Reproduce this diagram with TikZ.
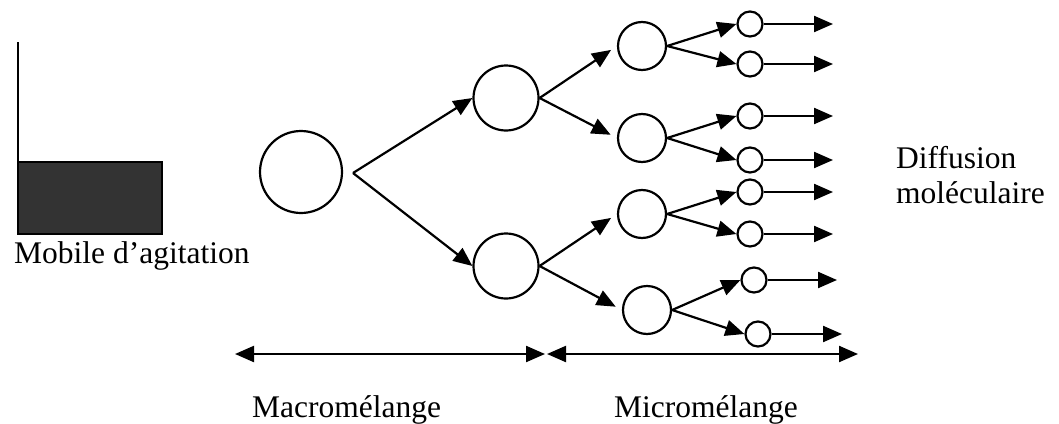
\documentclass[tikz,border=0pt]{standalone}
\usepackage{fontspec}
\setmainfont{Liberation Serif}
\usetikzlibrary{arrows.meta}
\begin{document}
\begin{tikzpicture}[x=1pt,y=-1pt,
  flow/.style={draw,line width=2.2pt,-{Triangle[length=19pt,width=16pt]}},
  span/.style={draw,line width=2.2pt,{Triangle[length=19pt,width=16pt]}-{Triangle[length=19pt,width=16pt]}},
  drop/.style={circle,draw,line width=2.2pt,inner sep=0pt},
  big/.style={drop,minimum size=82pt},
  mid/.style={drop,minimum size=65pt},
  small/.style={drop,minimum size=48pt},
  tiny/.style={drop,minimum size=25pt},
  lbl/.style={font=\fontsize{31.5}{35}\selectfont,inner sep=0pt,anchor=base west}]
\useasboundingbox (0,0) rectangle (1059,423);

% stirrer
\draw[line width=1.8pt] (18,42) -- (18,162);
\draw[line width=1.6pt,fill=black!80] (18,162) rectangle (162,234);
\node[lbl] (mobile) at (14,263) {Mobile d’agitation};

% first break-up
\node[big] (a) at (301,172) {};
\coordinate (split) at (353,173);
\node[mid] (b1) at (506,98) {};
\node[mid] (b2) at (506,266) {};
\path[flow] (split) -- (b1.west);
\path[flow] (split) -- (b2.west);

% second break-up
\node[small] (c1) at (642,46) {};
\node[small] (c2) at (642,138) {};
\node[small] (c3) at (642,214) {};
\node[small] (c4) at (647,310) {};
\path[flow,shorten >=7pt] (b1.east) -- (c1.west);
\path[flow,shorten >=7pt] (b1.east) -- (c2.west);
\path[flow,shorten >=7pt] (b2.east) -- (c3.west);
\path[flow,shorten >=7pt] (b2.east) -- (c4.west);

% smallest drops
\node[tiny] (d1) at (750,24) {};
\node[tiny] (d2) at (750,64) {};
\node[tiny] (d3) at (750,116) {};
\node[tiny] (d4) at (750,160) {};
\node[tiny] (d5) at (750,192) {};
\node[tiny] (d6) at (750,234) {};
\node[tiny] (d7) at (754,280) {};
\node[tiny] (d8) at (758,334) {};
\path[flow] (c1.east) -- (d1.west);
\path[flow] (c1.east) -- (d2.west);
\path[flow] (c2.east) -- (d3.west);
\path[flow] (c2.east) -- (d4.west);
\path[flow] (c3.east) -- (d5.west);
\path[flow] (c3.east) -- (d6.west);
\path[flow] (c4.east) -- (d7.west);
\path[flow] (c4.east) -- (d8.west);

% molecular diffusion outlets
\foreach \i/\xe in {1/833,2/833,3/833,4/833,5/833,6/833,7/837,8/842}{
  \coordinate (e\i) at (\xe,0 |- d\i.east);
  \path[flow] (d\i.east) -- (e\i);
}
\node[lbl] (diff) at (896,168) {Diffusion};
\node[lbl] (mol) at (896,203) {moléculaire};

% scale bars
\coordinate (m0) at (235,354);
\coordinate (m1) at (545,354);
\coordinate (n0) at (547,354);
\coordinate (n1) at (858,354);
\path[span] (m0) -- (m1);
\path[span] (n0) -- (n1);
\node[lbl] (macro) at (252,417) {Macromélange};
\node[lbl] (micro) at (614,417) {Micromélange};
\end{tikzpicture}
\end{document}
